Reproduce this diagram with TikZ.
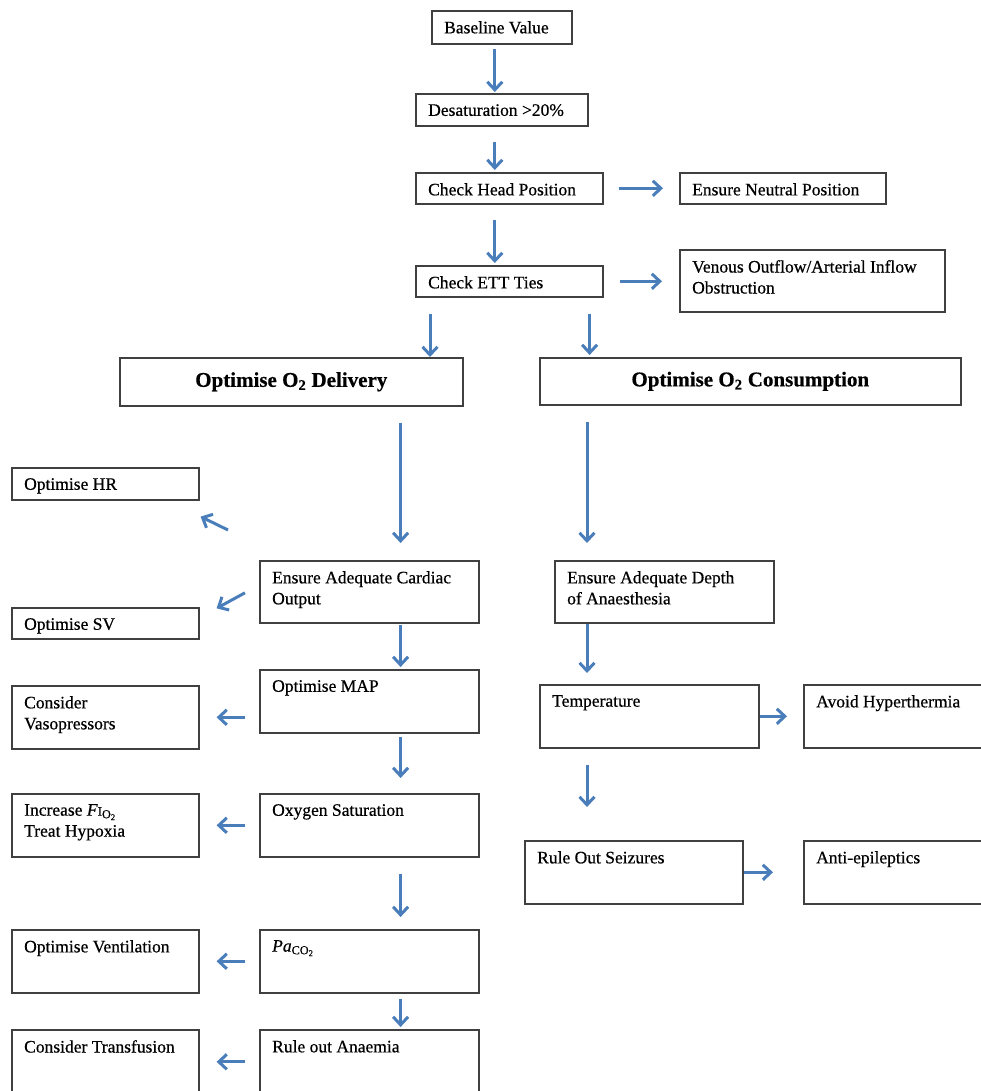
\documentclass[tikz,border=0pt]{standalone}
\usepackage{fontspec}
\setmainfont{Liberation Serif}[FakeBold=0.6]
\usepackage{xcolor}
\usepackage{tikz}
\usetikzlibrary{arrows.meta}
\definecolor{flowblue}{RGB}{74,126,187}
\definecolor{boxline}{RGB}{64,64,64}

\begin{document}
\begin{tikzpicture}[x=1pt, y=-1pt,
  every node/.style={font=\fontsize{17.5}{21}\selectfont},
  box/.style={draw=boxline, line width=1.6pt, anchor=north west, inner sep=0pt},
  sz/.style 2 args={minimum width=#1pt, minimum height=#2pt},
  lbl/.style={anchor=north west, align=left, inner xsep=13pt, inner ysep=11pt},
  txt/.style={label={[lbl]north west:{#1}}},
  titlebox/.style={font=\fontsize{21}{25}\selectfont\bfseries},
  arr/.style={draw=flowblue, line width=3pt, -{Straight Barb[length=8pt, width=15pt]}},
  gaps/.style 2 args={shorten <=#1pt, shorten >=#2pt}]
\useasboundingbox (0,0) rectangle (981,1091);

\node[box, sz={140}{33}, txt={Baseline Value}] (base) at (431,10) {};
\node[box, sz={172}{32}, txt={Desaturation >20\%}] (desat) at (415,93) {};
\node[box, sz={187}{31}, txt={Check Head Position}] (headpos) at (415,172) {};
\node[box, sz={206}{31}, txt={Ensure Neutral Position}] (neutral) at (679,172) {};
\node[box, sz={187}{31}, txt={Check ETT Ties}] (ett) at (415,265) {};
\node[box, sz={265}{62}, txt={Venous Outflow/Arterial Inflow\\Obstruction}] (venous) at (679,249) {};
\node[box, titlebox, sz={343}{48}] (deliv) at (119,357) {Optimise O\textsubscript{2} Delivery};
\node[box, titlebox, sz={421}{47}] (consum) at (539,357) {Optimise O\textsubscript{2} Consumption};

\node[box, sz={187}{32}, txt={Optimise HR}] (hr) at (11,467) {};
\node[box, sz={187}{31}, txt={Optimise SV}] (sv) at (11,607) {};
\node[box, sz={187}{63}, txt={Consider\\Vasopressors}] (vaso) at (11,685) {};
\node[box, sz={187}{63}, txt={Increase \textit{F}{\fontsize{13}{15}\selectfont I}\textsubscript{O\textsubscript{2}}\\Treat Hypoxia}] (fio) at (11,793) {};
\node[box, sz={187}{63}, txt={Optimise Ventilation}] (vent) at (11,929) {};
\node[box, sz={187}{64}, txt={Consider Transfusion}] (transf) at (11,1029) {};

\node[box, sz={219}{62}, txt={Ensure Adequate Cardiac\\Output}] (cardiac) at (259,560) {};
\node[box, sz={219}{63}, txt={Optimise MAP}] (map) at (259,669) {};
\node[box, sz={219}{63}, txt={Oxygen Saturation}] (oxy) at (259,793) {};
\node[box, sz={219}{63}, txt={\textit{Pa}\textsubscript{CO\textsubscript{2}}}] (paco) at (259,929) {};
\node[box, sz={219}{64}, txt={Rule out Anaemia}] (anaemia) at (259,1029) {};

\node[box, sz={219}{62}, txt={Ensure Adequate Depth\\of Anaesthesia}] (depth) at (554,560) {};
\node[box, sz={219}{63}, txt={Temperature}] (temp) at (539,684) {};
\node[box, sz={180}{63}, txt={Avoid Hyperthermia}] (hyper) at (803,684) {};
\node[box, sz={218}{63}, txt={Rule Out Seizures}] (seiz) at (524,840) {};
\node[box, sz={180}{63}, txt={Anti-epileptics}] (anti) at (803,840) {};

\draw[arr, gaps={4}{1}] ([xshift=-7pt]base.south) -- ([xshift=-7pt]desat.north);
\draw[arr, gaps={15}{2}] ([xshift=-7pt]desat.south) -- ([xshift=-14.5pt]headpos.north);
\draw[arr, gaps={15}{2}] ([xshift=-14.5pt]headpos.south) -- ([xshift=-14.5pt]ett.north);
\draw[arr, gaps={15}{16}] (headpos.east) -- (neutral.west);
\draw[arr, gaps={16}{17}] (ett.east) -- (ett.east -| venous.west);
\draw[arr, gaps={16}{0}] ([xshift=15pt]ett.south west) -- ([xshift=-33.6pt]deliv.north east);
\draw[arr, gaps={16}{2}] ([xshift=-14pt]ett.south east) -- ([xshift=50.6pt]consum.north west);
\draw[arr, gaps={16}{17}] ([xshift=-63pt]deliv.south east) -- ([xshift=141.6pt]cardiac.north west);
\draw[arr, gaps={16}{17}] ([xshift=48pt]consum.south west) -- ([xshift=33pt]depth.north west);

\draw[arr] ([shift={(-31,-30)}]cardiac.north west) -- ([shift={(1,16)}]hr.south east);
\draw[arr] ([shift={(-14,1)}]cardiac.west) -- ([shift={(17,-15)}]sv.east);
\draw[arr, gaps={14}{17}] (map.west |- vaso.east) -- (vaso.east);
\draw[arr, gaps={1}{2}] ([xshift=141.6pt]cardiac.south west) -- ([xshift=141.6pt]map.north west);
\draw[arr, gaps={3}{15}] ([xshift=141.6pt]map.south west) -- ([xshift=141.6pt]oxy.north west);
\draw[arr, gaps={14}{17}] (oxy.west) -- (fio.east);
\draw[arr, gaps={16}{12}] ([xshift=141.6pt]oxy.south west) -- ([xshift=141.6pt]paco.north west);
\draw[arr, gaps={14}{17}] (paco.west) -- (vent.east);
\draw[arr, gaps={5}{2}] ([xshift=141.6pt]paco.south west) -- ([xshift=141.6pt]anaemia.north west);
\draw[arr, gaps={14}{17}] (anaemia.west) -- (transf.east);

\draw[arr, gaps={0}{11}] ([xshift=33pt]depth.south west) -- ([xshift=48pt]temp.north west);
\draw[arr, gaps={0}{16}] (temp.east) -- (hyper.west);
\draw[arr, gaps={16}{33}] ([xshift=48pt]temp.south west) -- ([xshift=63pt]seiz.north west);
\draw[arr, gaps={0}{30}] (seiz.east) -- (anti.west);
\end{tikzpicture}
\end{document}
